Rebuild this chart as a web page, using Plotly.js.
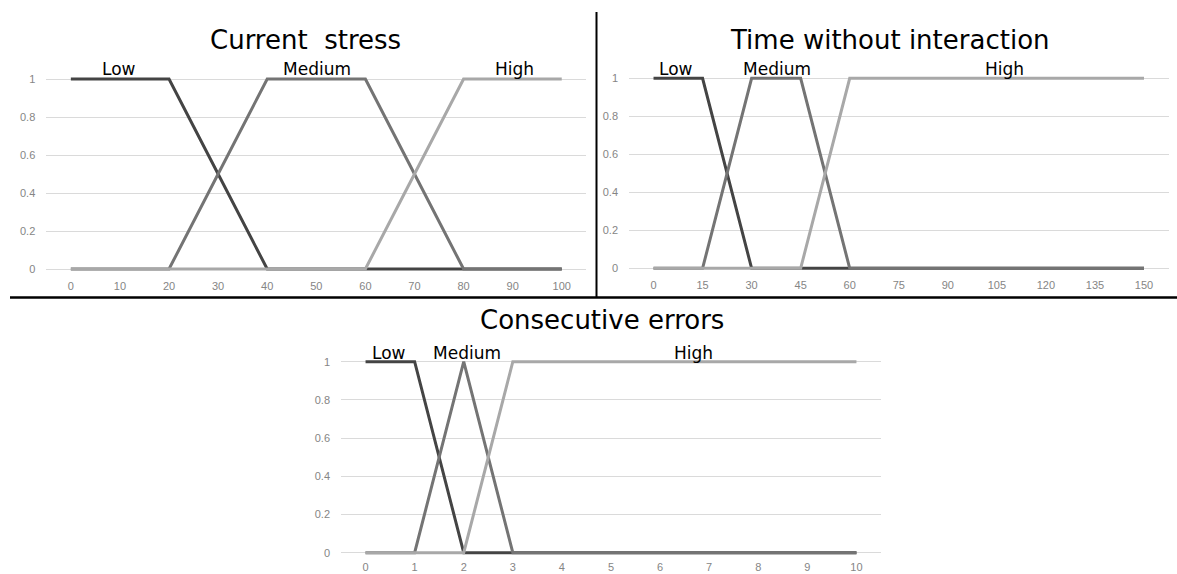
<!DOCTYPE html>
<html>
<head>
<meta charset="utf-8">
<script src="https://cdn.plot.ly/plotly-3.0.1.min.js"></script>
<style>html,body{margin:0;padding:0;background:#fff;}#chart{width:1177px;height:574px;}</style>
</head>
<body>
<div id="chart"></div>
<script>
// ---- data ----
var seriesNames = ["Low", "Medium", "High"];

var stressTitle = "Current  stress";
var stressX = [0, 10, 20, 30, 40, 50, 60, 70, 80, 90, 100];
var stressLow = [1, 1, 1, 0.5, 0, 0, 0, 0, 0, 0, 0];
var stressMedium = [0, 0, 0, 0.5, 1, 1, 1, 0.5, 0, 0, 0];
var stressHigh = [0, 0, 0, 0, 0, 0, 0, 0.5, 1, 1, 1];

var timeTitle = "Time without interaction";
var timeX = [0, 15, 30, 45, 60, 75, 90, 105, 120, 135, 150];
var timeLow = [1, 1, 0, 0, 0, 0, 0, 0, 0, 0, 0];
var timeMedium = [0, 0, 1, 1, 0, 0, 0, 0, 0, 0, 0];
var timeHigh = [0, 0, 0, 0, 1, 1, 1, 1, 1, 1, 1];

var errTitle = "Consecutive errors";
var errX = [0, 1, 2, 3, 4, 5, 6, 7, 8, 9, 10];
var errLow = [1, 1, 0, 0, 0, 0, 0, 0, 0, 0, 0];
var errMedium = [0, 0, 1, 0, 0, 0, 0, 0, 0, 0, 0];
var errHigh = [0, 0, 0, 1, 1, 1, 1, 1, 1, 1, 1];

var yTicks = [0, 0.2, 0.4, 0.6, 0.8, 1];

// ---- styling ----
var W = 1177, H = 574;
var colors = ["#444444", "#747474", "#a8a8a8"];
var tickFont = {family: "Liberation Sans, Arial, sans-serif", size: 11, color: "#858585"};
var titleFont = {family: "DejaVu Sans, sans-serif", size: 26, color: "#000"};
var labelFont = {family: "DejaVu Sans, sans-serif", size: 17, color: "#000"};

function px(x) { return x / W; }
function py(y) { return 1 - y / H; }

function mkTraces(x, ys, xa, ya) {
  return ys.map(function (y, i) {
    return {
      type: "scatter", mode: "lines", x: x, y: y, name: seriesNames[i],
      xaxis: xa, yaxis: ya, showlegend: false, hoverinfo: "skip",
      line: {color: colors[i], width: 3}
    };
  });
}

var data = []
  .concat(mkTraces(stressX, [stressLow, stressMedium, stressHigh], "x", "y"))
  .concat(mkTraces(timeX, [timeLow, timeMedium, timeHigh], "x2", "y2"))
  .concat(mkTraces(errX, [errLow, errMedium, errHigh], "x3", "y3"));

function xAxis(x0, step, n, dl, dr, anchor, standoff) {
  return {
    domain: [px(dl), px(dr)], range: [x0 - step / 2, x0 + step * (n - 1) + step / 2],
    anchor: anchor, tickmode: "linear", dtick: step, tick0: x0,
    showgrid: false, zeroline: false, showline: false, ticks: "",
    tickfont: tickFont, ticklabelstandoff: standoff, fixedrange: true
  };
}
function yAxis(top1, bot0, anchor) {
  var unit = bot0 - top1;
  var top = top1 - 0.02 * unit, bot = bot0 + 0.02 * unit;
  return {
    domain: [py(bot), py(top)], range: [-0.02, 1.02], anchor: anchor,
    tickmode: "array", tickvals: yTicks, ticktext: yTicks.map(String),
    showgrid: true, gridcolor: "#dadada", gridwidth: 1, zeroline: false,
    showline: false, ticks: "", tickfont: tickFont, ticklabelstandoff: 10, fixedrange: true
  };
}

function ann(text, x, y, font) {
  return {text: text, xref: "paper", yref: "paper", x: px(x), y: py(y),
    xanchor: "center", yanchor: "middle", showarrow: false, font: font};
}

var annotations = [
  ann(stressTitle, 305, 40, titleFont),
  ann(timeTitle, 889.5, 40, titleFont),
  ann(errTitle, 602, 320, titleFont)
];
var labelPos = [
  [[119, 69], [316.5, 69], [514, 69]],
  [[676, 69], [777, 69], [1004, 69]],
  [[389, 353], [466.5, 353], [693, 353]]
];
labelPos.forEach(function (grp) {
  grp.forEach(function (p, i) { annotations.push(ann(seriesNames[i], p[0], p[1], labelFont)); });
});

var layout = {
  width: W, height: H, margin: {l: 0, r: 0, t: 0, b: 0},
  paper_bgcolor: "#fff", plot_bgcolor: "rgba(0,0,0,0)", showlegend: false,
  xaxis: xAxis(0, 10, 11, 46.3, 586.3, "y", 5),
  yaxis: yAxis(79, 269, "x"),
  xaxis2: xAxis(0, 15, 11, 629, 1168.5, "y2", 5),
  yaxis2: yAxis(78.3, 268.3, "x2"),
  xaxis3: xAxis(0, 1, 11, 341, 881, "y3", 2),
  yaxis3: yAxis(361.7, 552.7, "x3"),
  annotations: annotations,
  shapes: [
    {type: "line", xref: "paper", yref: "paper", x0: px(596.5), x1: px(596.5), y0: py(12), y1: py(297.5), line: {color: "#000", width: 2}},
    {type: "line", xref: "paper", yref: "paper", x0: px(10), x1: px(1177), y0: py(297.5), y1: py(297.5), line: {color: "#000", width: 2.5}}
  ]
};

Plotly.newPlot("chart", data, layout, {displayModeBar: false, staticPlot: true});
</script>
</body>
</html>
